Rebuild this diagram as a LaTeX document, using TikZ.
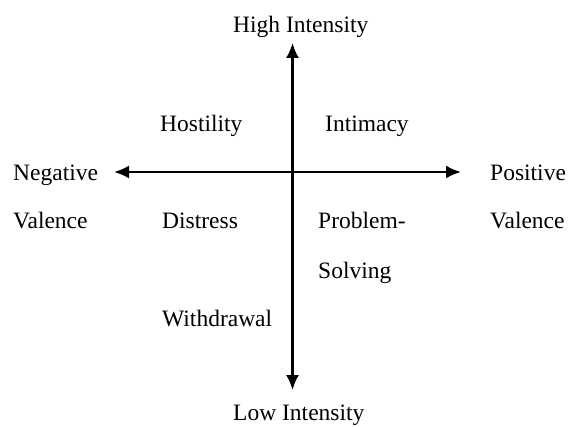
\documentclass[tikz,border=0pt]{standalone}
\usepackage{fontspec}
\setmainfont{Liberation Serif}
\usetikzlibrary{arrows.meta}
\begin{document}
\begin{tikzpicture}[x=1pt,y=-1pt,
  lbl/.style={inner sep=0pt,anchor=base west,font=\fontsize{23.5}{28}\selectfont},
  axis/.style={line width=2.2pt,{Latex[length=15pt,width=13pt]}-{Latex[length=15pt,width=13pt]}}]
\useasboundingbox (0,0) rectangle (569,427);
\coordinate (top) at (292.5,43);
\coordinate (bot) at (292.5,390);
\coordinate (lft) at (114,172);
\coordinate (rgt) at (461,172);
\draw[axis] (top) -- (bot);
\draw[axis] (lft) -- (rgt);
\node[lbl] (hi) at (233,33) {High Intensity};
\node[lbl] (lo) at (233,420) {Low Intensity};
\node[lbl] (neg) at (13,181) {Negative};
\node[lbl] (negv) at (13,229) {Valence};
\node[lbl] (pos) at (490,181) {Positive};
\node[lbl] (posv) at (490,229) {Valence};
\node[lbl] (hos) at (160,132) {Hostility};
\node[lbl] (int) at (325,132) {Intimacy};
\node[lbl] (dis) at (162,229) {Distress};
\node[lbl] (pro) at (318,229) {Problem-};
\node[lbl] (sol) at (318,278) {Solving};
\node[lbl] (wit) at (162,326) {Withdrawal};
\end{tikzpicture}
\end{document}
